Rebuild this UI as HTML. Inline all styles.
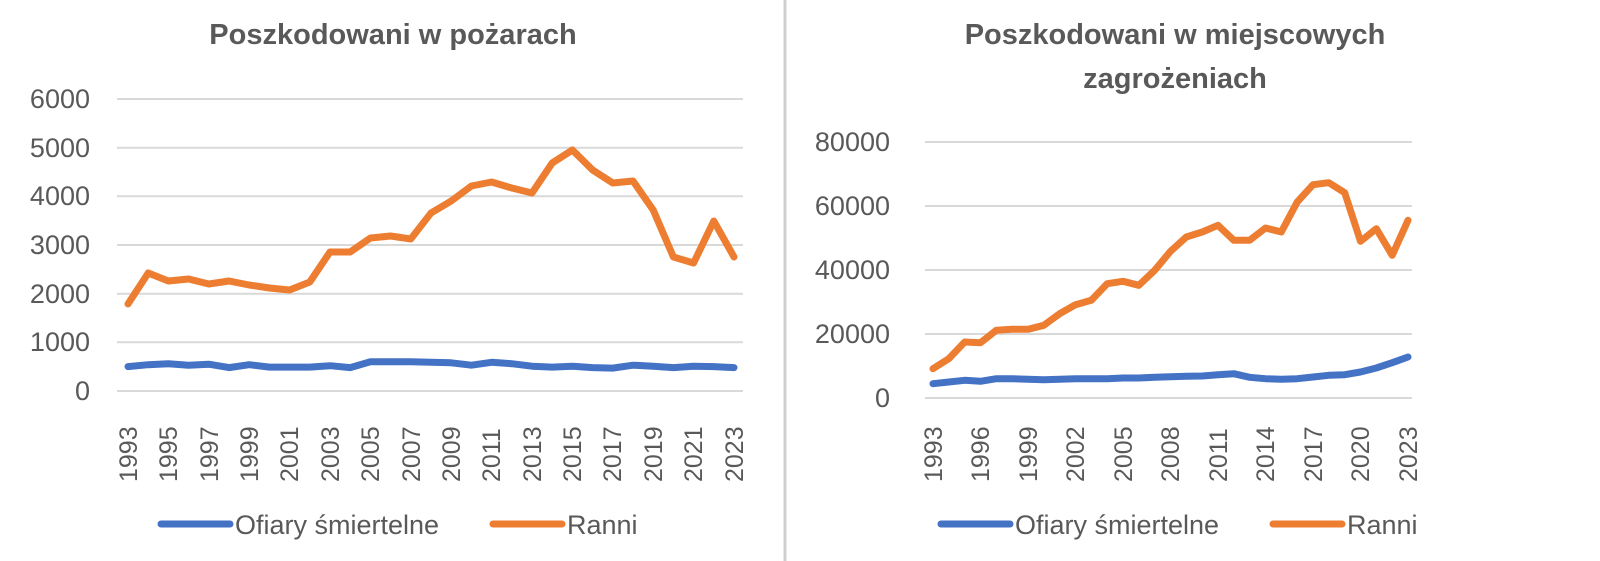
<!DOCTYPE html>
<html><head><meta charset="utf-8"><style>
html,body{margin:0;padding:0;background:#fff;width:1600px;height:561px;overflow:hidden}
svg{display:block}
text{font-family:"Liberation Sans",sans-serif;fill:#595959}
</style></head><body>
<svg width="1600" height="561" viewBox="0 0 1600 561">
<rect x="0" y="0" width="1600" height="561" fill="#fff"/>
<line x1="785" y1="0" x2="785" y2="561" stroke="#d0d0d0" stroke-width="3"/>
<!-- LEFT -->
<text x="393" y="44" text-anchor="middle" font-size="29" font-weight="bold">Poszkodowani w pożarach</text>
<g stroke="#d9d9d9" stroke-width="2">
<line x1="117" y1="99" x2="743" y2="99"/><line x1="117" y1="147.7" x2="743" y2="147.7"/>
<line x1="117" y1="196.3" x2="743" y2="196.3"/><line x1="117" y1="245" x2="743" y2="245"/>
<line x1="117" y1="293.7" x2="743" y2="293.7"/><line x1="117" y1="342.3" x2="743" y2="342.3"/>
<line x1="117" y1="391" x2="743" y2="391"/></g>
<g font-size="27" text-anchor="end">
<text x="90" y="108">6000</text><text x="90" y="157">5000</text><text x="90" y="205">4000</text>
<text x="90" y="254">3000</text><text x="90" y="303">2000</text><text x="90" y="351">1000</text><text x="90" y="400">0</text></g>
<polyline fill="none" stroke="#4472c4" stroke-width="7" stroke-linejoin="round" stroke-linecap="round" points="128,366.6 148.2,364.7 168.4,363.7 188.6,365.2 208.8,364.2 229,367.6 249.2,364.7 269.4,367.1 289.6,367.1 309.8,367.1 330,365.7 350.2,367.6 370.4,361.8 390.6,361.8 410.8,361.8 431,362.3 451.2,362.8 471.4,365.2 491.6,362.3 511.8,363.7 532,366.2 552.2,367.1 572.4,366.2 592.6,367.6 612.8,368.1 633,365.2 653.2,366.2 673.4,367.6 693.6,366.2 713.8,366.6 734,367.6"/>
<polyline fill="none" stroke="#ed7d31" stroke-width="7" stroke-linejoin="round" stroke-linecap="round" points="128,304 148.2,273 168.4,281 188.6,279 208.8,284 229,281 249.2,285 269.4,288 289.6,290 309.8,282 330,252 350.2,252 370.4,238 390.6,236 410.8,239 431,213 451.2,201 471.4,186 491.6,182 511.8,188 532,193 552.2,163 572.4,150 592.6,170 612.8,183 633,181 653.2,210 673.4,257 693.6,263 713.8,221 734,257"/>
<g font-size="25">
<text transform="translate(137,482) rotate(-90)">1993</text><text transform="translate(177,482) rotate(-90)">1995</text>
<text transform="translate(218,482) rotate(-90)">1997</text><text transform="translate(258,482) rotate(-90)">1999</text>
<text transform="translate(298,482) rotate(-90)">2001</text><text transform="translate(339,482) rotate(-90)">2003</text>
<text transform="translate(379,482) rotate(-90)">2005</text><text transform="translate(420,482) rotate(-90)">2007</text>
<text transform="translate(460,482) rotate(-90)">2009</text><text transform="translate(500,482) rotate(-90)">2011</text>
<text transform="translate(541,482) rotate(-90)">2013</text><text transform="translate(581,482) rotate(-90)">2015</text>
<text transform="translate(621,482) rotate(-90)">2017</text><text transform="translate(662,482) rotate(-90)">2019</text>
<text transform="translate(702,482) rotate(-90)">2021</text><text transform="translate(743,482) rotate(-90)">2023</text>
</g>
<line x1="161" y1="524" x2="230" y2="524" stroke="#4472c4" stroke-width="7" stroke-linecap="round"/>
<text x="235" y="534" font-size="27">Ofiary śmiertelne</text>
<line x1="493" y1="524" x2="562" y2="524" stroke="#ed7d31" stroke-width="7" stroke-linecap="round"/>
<text x="567" y="534" font-size="27">Ranni</text>
<!-- RIGHT -->
<text x="1175" y="44" text-anchor="middle" font-size="29" font-weight="bold">Poszkodowani w miejscowych</text>
<text x="1175" y="88" text-anchor="middle" font-size="29" font-weight="bold">zagrożeniach</text>
<g stroke="#d9d9d9" stroke-width="2">
<line x1="925" y1="142" x2="1412" y2="142"/><line x1="925" y1="206" x2="1412" y2="206"/>
<line x1="925" y1="270" x2="1412" y2="270"/><line x1="925" y1="334" x2="1412" y2="334"/>
<line x1="925" y1="398" x2="1412" y2="398"/></g>
<g font-size="27" text-anchor="end">
<text x="890" y="151">80000</text><text x="890" y="215">60000</text><text x="890" y="279">40000</text>
<text x="890" y="343">20000</text><text x="890" y="407">0</text></g>
<polyline fill="none" stroke="#4472c4" stroke-width="7" stroke-linejoin="round" stroke-linecap="round" points="933,383.7 948.8,382 964.7,380.3 980.5,381.3 996.3,378.7 1012.2,378.7 1028,379.3 1043.8,379.7 1059.7,379.3 1075.5,378.7 1091.3,378.7 1107.2,378.7 1123,378 1138.8,378 1154.7,377.3 1170.5,376.7 1186.3,376.3 1202.2,376 1218,374.7 1233.8,373.7 1249.7,377.3 1265.5,378.7 1281.3,379.3 1297.2,378.7 1313,377 1328.8,375.3 1344.7,374.7 1360.5,372 1376.3,368 1392.2,362.7 1408,357"/>
<polyline fill="none" stroke="#ed7d31" stroke-width="7" stroke-linejoin="round" stroke-linecap="round" points="933,368.7 948.8,358.7 964.7,342 980.5,342.7 996.3,330.3 1012.2,329.3 1028,329.3 1043.8,325.3 1059.7,313.7 1075.5,304.7 1091.3,300.3 1107.2,283.7 1123,281.3 1138.8,285.3 1154.7,270.3 1170.5,251.3 1186.3,237 1202.2,232 1218,225.3 1233.8,240.3 1249.7,240.3 1265.5,228 1281.3,232 1297.2,202 1313,184.7 1328.8,182.7 1344.7,192.7 1360.5,241.3 1376.3,228.7 1392.2,255.3 1408,220.3"/>
<g font-size="25">
<text transform="translate(942,482) rotate(-90)">1993</text><text transform="translate(989,482) rotate(-90)">1996</text>
<text transform="translate(1037,482) rotate(-90)">1999</text><text transform="translate(1084,482) rotate(-90)">2002</text>
<text transform="translate(1132,482) rotate(-90)">2005</text><text transform="translate(1179,482) rotate(-90)">2008</text>
<text transform="translate(1227,482) rotate(-90)">2011</text><text transform="translate(1274,482) rotate(-90)">2014</text>
<text transform="translate(1322,482) rotate(-90)">2017</text><text transform="translate(1369,482) rotate(-90)">2020</text>
<text transform="translate(1417,482) rotate(-90)">2023</text>
</g>
<line x1="941" y1="524" x2="1010" y2="524" stroke="#4472c4" stroke-width="7" stroke-linecap="round"/>
<text x="1015" y="534" font-size="27">Ofiary śmiertelne</text>
<line x1="1273" y1="524" x2="1342" y2="524" stroke="#ed7d31" stroke-width="7" stroke-linecap="round"/>
<text x="1347" y="534" font-size="27">Ranni</text>
</svg>
</body></html>
